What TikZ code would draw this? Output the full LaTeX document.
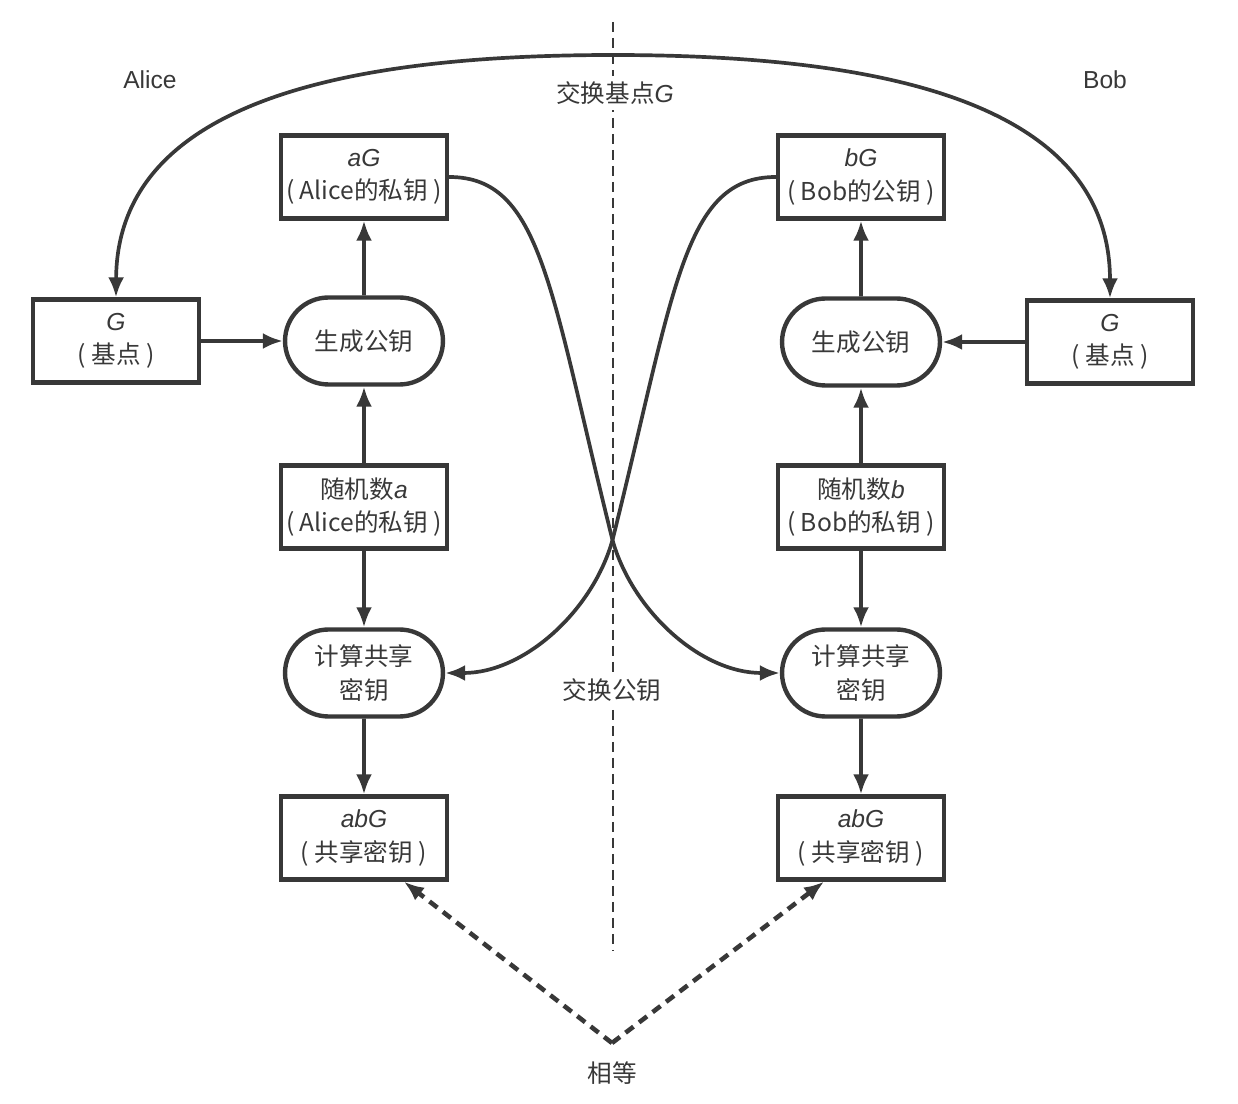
\documentclass[tikz,border=0pt]{standalone}
\usepackage{fontspec}
\setmainfont{Noto Sans CJK SC}
\newfontfamily\latinfont{Liberation Sans}
\newcommand{\mv}[1]{{\latinfont\itshape #1}}
\usetikzlibrary{arrows.meta, shapes.misc}
\definecolor{ink}{HTML}{383838}

\begin{document}
\begin{tikzpicture}[x=0.02cm, y=-0.02cm, >={Latex[length=4mm,width=3.2mm]},
    every node/.style={text=ink, font=\fontsize{14}{19}\selectfont},
    box/.style={draw=ink, line width=2.5pt, minimum width=3.32cm, minimum height=1.66cm, align=center, inner sep=2pt},
    pill/.style={draw=ink, line width=2.5pt, rounded rectangle, minimum width=3.3cm, minimum height=1.74cm, align=center, inner sep=2pt},
    conn/.style={->, draw=ink, line width=2.1pt},
    eqline/.style={->, draw=ink, line width=2.6pt, dash pattern=on 0.2cm off 0.14cm},
    midline/.style={draw=ink, line width=1pt, dash pattern=on 0.2cm off 0.12cm},
    tag/.style={fill=white, inner sep=3pt}]
    \useasboundingbox (0,0) rectangle (1238,1104);

    % Trennlinie
    \coordinate (lt) at (613,22);
    \coordinate (lb) at (613,950);
    \draw[midline] (lt) -- (lb);

    % Alice
    \node[box] (Gl) at (116,341) {\mv{G}\\(\ 基点\ )};
    \node[pill] (Pl) at (364,341) {生成公钥};
    \node[box] (aG) at (364,177) {\mv{aG}\\(\ Alice的私钥\ )};
    \node[box] (Rl) at (364,507) {随机数\mv{a}\\(\ Alice的私钥\ )};
    \node[pill] (Cl) at (364,673) {计算共享\\密钥};
    \node[box] (Kl) at (364,838) {\mv{abG}\\(\ 共享密钥\ )};

    % Bob
    \node[box] (Gr) at (1110,342) {\mv{G}\\(\ 基点\ )};
    \node[pill] (Pr) at (861,342) {生成公钥};
    \node[box] (bG) at (861,177) {\mv{bG}\\(\ Bob的公钥\ )};
    \node[box] (Rr) at (861,507) {随机数\mv{b}\\(\ Bob的私钥\ )};
    \node[pill] (Cr) at (861,673) {计算共享\\密钥};
    \node[box] (Kr) at (861,838) {\mv{abG}\\(\ 共享密钥\ )};

    % Pfeile je Seite
    \draw[conn] (Gl) -- (Pl);
    \draw[conn] (Pl) -- (aG);
    \draw[conn] (Rl) -- (Pl);
    \draw[conn] (Rl) -- (Cl);
    \draw[conn] (Cl) -- (Kl);
    \draw[conn] (Gr) -- (Pr);
    \draw[conn] (Pr) -- (bG);
    \draw[conn] (Rr) -- (Pr);
    \draw[conn] (Rr) -- (Cr);
    \draw[conn] (Cr) -- (Kr);

    % Basispunkt austauschen
    \coordinate (top) at (613,55);
    \draw[conn, <->] (Gl.north) .. controls (117,100) and (350,55) .. (top)
        .. controls (876,55) and (1110,100) .. (Gr.north);

    % oeffentliche Schluessel austauschen
    \coordinate (X) at (612.5,540);
    \draw[conn] (aG.east) .. controls (542,177) and (550,290) .. (X)
        .. controls (632,610) and (700,673) .. (Cr.west);
    \draw[conn] (bG.west) .. controls (683,177) and (675,290) .. (X)
        .. controls (593,610) and (525,673) .. (Cl.east);

    % gleich
    \coordinate (eq) at (612,1043);
    \draw[eqline] (eq) -- ([xshift=0.8cm]Kl.south);
    \draw[eqline] (eq) -- ([xshift=-0.74cm]Kr.south);

    % Beschriftungen
    \node (alice) at (150,80) {\latinfont Alice};
    \node (bob) at (1105,80) {\latinfont Bob};
    \node[tag] (xg) at (615,93) {交换基点\mv{G}};
    \node[tag] (xk) at (612,690) {交换公钥};
    \node (same) at (612,1073) {相等};
\end{tikzpicture}
\end{document}
